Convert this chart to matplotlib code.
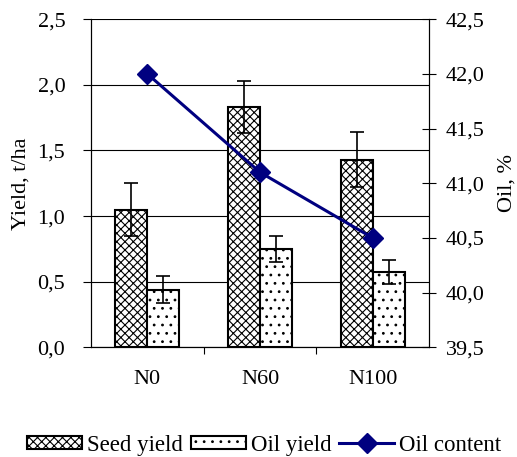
import matplotlib
matplotlib.use("Agg")
import matplotlib.pyplot as plt
import numpy as np
from matplotlib.ticker import FuncFormatter, FixedLocator

plt.rcParams['font.family'] = ['Liberation Serif', 'DejaVu Serif']
plt.rcParams['hatch.linewidth'] = 0.8

categories = ["N0", "N60", "N100"]
seed_yield = [1.05, 1.83, 1.43]
seed_err = [0.20, 0.20, 0.21]
oil_yield = [0.44, 0.75, 0.575]
oil_err = [0.10, 0.10, 0.09]
oil_content = [42.0, 41.1, 40.5]

FS = 16

fig = plt.figure(figsize=(5.17, 4.57), dpi=100)
ax = fig.add_axes([0.176, 0.240, 0.654, 0.718])
ax2 = ax.twinx()

x = np.arange(len(categories))
w = 0.285

ax.bar(x - w / 2, seed_yield, w, color='white', edgecolor='black', hatch='xxxx',
       linewidth=1.5, zorder=2, label='Seed yield')
ax.bar(x + w / 2, oil_yield, w, color='white', edgecolor='black', hatch='..',
       linewidth=1.5, zorder=2, label='Oil yield')
ax.errorbar(x - w / 2, seed_yield, yerr=seed_err, fmt='none', ecolor='black',
            elinewidth=1.2, capsize=4.7, capthick=1.2, zorder=3)
ax.errorbar(x + w / 2, oil_yield, yerr=oil_err, fmt='none', ecolor='black',
            elinewidth=1.2, capsize=4.7, capthick=1.2, zorder=3)

ax2.plot(x, oil_content, color='#000080', linewidth=2.2, marker='D',
         markersize=10, label='Oil content')

ax.set_xlim(-0.5, 2.5)
ax.set_ylim(0, 2.5)
ax2.set_ylim(39.5, 42.5)
ax.set_yticks(np.arange(0, 2.51, 0.5))
ax2.set_yticks(np.arange(39.5, 42.51, 0.5))

comma = FuncFormatter(lambda v, p: f"{v:.1f}".replace('.', ','))
ax.yaxis.set_major_formatter(comma)
ax2.yaxis.set_major_formatter(comma)

ax.set_xticks(x)
ax.set_xticklabels(categories)
ax.xaxis.set_minor_locator(FixedLocator([0.5, 1.5]))
ax.tick_params(axis='x', which='major', length=0, pad=16, labelsize=FS)
ax.tick_params(axis='x', which='minor', length=5, direction='out', width=0.8)
ax.tick_params(axis='y', length=5.5, direction='out', width=0.8, labelsize=FS, pad=13)
ax2.tick_params(axis='y', length=10.5, direction='inout', width=0.8, labelsize=FS, pad=7)

ax.grid(axis='y', color='black', linewidth=0.8)
ax.set_axisbelow(True)

for a in (ax, ax2):
    a.spines['top'].set_visible(False)
    for s in ('left', 'right', 'bottom'):
        a.spines[s].set_linewidth(0.8)

ax.set_ylabel("Yield, t/ha", fontsize=FS, labelpad=5)
ax2.set_ylabel("Oil, %", fontsize=FS, labelpad=9)

h1, l1 = ax.get_legend_handles_labels()
h2, l2 = ax2.get_legend_handles_labels()
fig.legend(h1 + h2, l1 + l2, loc='center', bbox_to_anchor=(0.511, 0.026),
           ncol=3, frameon=False, fontsize=16.5, handlelength=2.4,
           handleheight=0.45, handletextpad=0.2, columnspacing=0.35)

fig.savefig("out.png", dpi=100)
